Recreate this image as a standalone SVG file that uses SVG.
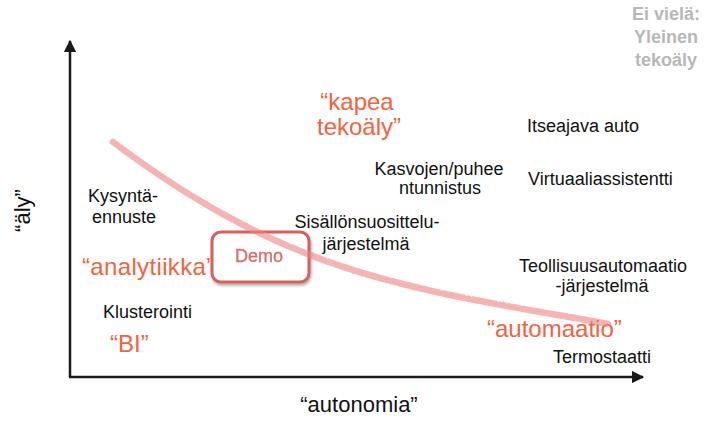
<svg xmlns="http://www.w3.org/2000/svg" width="705" height="421" viewBox="0 0 705 421">
<defs>
<style>
.lbl{font-family:"Liberation Sans",Arial,sans-serif;font-size:18px;fill:#111}
.org{font-family:"Liberation Sans",Arial,sans-serif;font-size:24px;fill:#f5623d}
.gry{font-family:"Liberation Sans",Arial,sans-serif;font-size:18px;font-weight:bold;fill:#b8b8b8}
.axl{font-family:"Liberation Sans",Arial,sans-serif;font-size:22px;fill:#111}
.mid{text-anchor:middle}
.axis{stroke:#1a1a1a;stroke-width:2.5;fill:none}
</style>
<marker id="arr" viewBox="0 0 10 10" refX="9" refY="5" markerWidth="5" markerHeight="5" orient="auto" markerUnits="strokeWidth">
<path d="M0,0 L10,5 L0,10 z" fill="#1a1a1a"/>
</marker>
<filter id="shadow" x="-20%" y="-20%" width="140%" height="140%">
<feGaussianBlur in="SourceAlpha" stdDeviation="1.5"/>
<feOffset dx="1" dy="2" result="b"/>
<feComponentTransfer><feFuncA type="linear" slope="0.35"/></feComponentTransfer>
<feMerge><feMergeNode/><feMergeNode in="SourceGraphic"/></feMerge>
</filter>
<filter id="rough" x="-5%" y="-5%" width="110%" height="110%">
<feTurbulence type="fractalNoise" baseFrequency="0.8" numOctaves="2" result="n"/>
<feDisplacementMap in="SourceGraphic" in2="n" scale="2"/>
</filter>
</defs>

<g id="connectors">
<line id="y-axis" class="axis" x1="70" y1="377" x2="70" y2="41" marker-end="url(#arr)"/>
<line id="x-axis" class="axis" x1="69" y1="377" x2="643" y2="377" marker-end="url(#arr)"/>
</g>

<g id="axis-labels">
<text id="x-label" class="axl mid" x="359" y="412">“autonomia”</text>
<text id="y-label" class="axl mid" transform="translate(30,210.5) rotate(-90)" x="0" y="0">“äly”</text>
</g>

<g id="general-ai">
<text class="gry mid" x="666" y="20">Ei vielä:</text>
<text class="gry mid" x="666" y="43">Yleinen</text>
<text class="gry mid" x="666" y="66">tekoäly</text>
</g>

<g id="kapea">
<text class="org mid" x="357" y="110">“kapea</text>
<text class="org mid" x="359" y="135">tekoäly”</text>
</g>

<g id="itseajava"><text class="lbl" x="527" y="132">Itseajava auto</text></g>
<g id="kasvojen">
<text class="lbl mid" x="439" y="175">Kasvojen/puhee</text>
<text class="lbl mid" x="440" y="194">ntunnistus</text>
</g>
<g id="virtuaali"><text class="lbl" x="528" y="185">Virtuaaliassistentti</text></g>
<g id="kysynta">
<text class="lbl mid" x="123" y="202">Kysyntä-</text>
<text class="lbl mid" x="124" y="223">ennuste</text>
</g>
<g id="sisallon">
<text class="lbl mid" x="367" y="228">Sisällönsuosittelu-</text>
<text class="lbl mid" x="366" y="250">järjestelmä</text>
</g>
<g id="analytiikka"><text class="org" x="82" y="275" letter-spacing="0.35">“analytiikka”</text></g>
<g id="teollisuus">
<text class="lbl mid" x="603" y="272">Teollisuusautomaatio</text>
<text class="lbl mid" x="602" y="292">-järjestelmä</text>
</g>
<g id="klusterointi"><text class="lbl" x="103" y="318">Klusterointi</text></g>
<g id="automaatio"><text class="org" x="487" y="337">“automaatio”</text></g>
<g id="bi"><text class="org" x="110" y="352">“BI”</text></g>
<g id="termostaatti"><text class="lbl" x="553" y="363">Termostaatti</text></g>

<g id="demo" filter="url(#shadow)">
<rect x="212" y="232" width="97" height="50" rx="9" fill="#ffffff" stroke="#d6605c" stroke-width="3"/>
<text x="259" y="262" text-anchor="middle" font-family="'Liberation Sans',Arial,sans-serif" font-size="18" fill="#dc6a66" stroke="#dc6a66" stroke-width="0.3">Demo</text>
</g>

<g id="curve">
<path d="M113,142 C293,277 408,288 608,324" fill="none" stroke="#ee8080" stroke-opacity="0.6" stroke-width="6.5" stroke-linecap="round" filter="url(#rough)"/>
</g>
</svg>
